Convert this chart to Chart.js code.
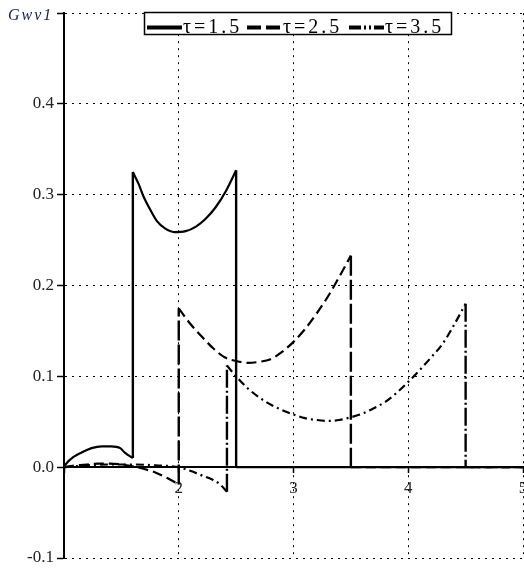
<!DOCTYPE html>
<html><head><meta charset="utf-8">
<script src="https://cdn.jsdelivr.net/npm/chart.js@4/dist/chart.umd.min.js"></script>
<style>html,body{margin:0;padding:0;background:#fff}#wrap{width:524px;height:574px;position:relative}</style>
</head><body><div id="wrap"><canvas id="c" width="524" height="574"></canvas></div>
<script>
// ---- data ----
const seriesLabels = ['τ=1.5', 'τ=2.5', 'τ=3.5'];
const yAxisTitle = 'Gwv1';
const xTickValues = [1, 2, 3, 4, 5];
const yTickValues = [-0.1, 0, 0.1, 0.2, 0.3, 0.4, 0.5];

const tau15X = [1.0, 1.02, 1.08, 1.15, 1.24, 1.33, 1.41, 1.49, 1.53, 1.6,
  1.6, 1.65, 1.69, 1.75, 1.81, 1.88, 1.96, 2.06, 2.15, 2.23, 2.32, 2.41, 2.5,
  2.5, 5.0];
const tau15Y = [0.0, 0.004, 0.011, 0.016, 0.021, 0.023, 0.023, 0.021, 0.016, 0.010,
  0.325, 0.312, 0.299, 0.284, 0.271, 0.263, 0.259, 0.260, 0.265, 0.273, 0.286, 0.304, 0.327,
  0.0, 0.0];

const tau25X = [1.0, 1.1, 1.2, 1.3, 1.4, 1.5, 1.6, 1.7, 1.8, 1.9, 2.0,
  2.0, 2.1, 2.2, 2.3, 2.4, 2.5, 2.6, 2.7, 2.8, 2.9, 3.0, 3.1, 3.2, 3.3, 3.4, 3.5,
  3.5, 5.0];
const tau25Y = [0.0, 0.002, 0.003, 0.004, 0.004, 0.003, 0.001, -0.002, -0.006, -0.012, -0.019,
  0.175, 0.158, 0.144, 0.131, 0.121, 0.117, 0.115, 0.116, 0.119, 0.127, 0.138, 0.152, 0.169, 0.188, 0.210, 0.233,
  0.0, 0.0];

const tau35X = [1.0, 1.2, 1.4, 1.6, 1.8, 2.0, 2.1, 2.2, 2.3, 2.36, 2.42,
  2.42, 2.5, 2.6, 2.7, 2.8, 2.9, 3.0, 3.1, 3.2, 3.3, 3.4, 3.5, 3.6, 3.7, 3.8, 3.9, 4.0, 4.1, 4.2, 4.3, 4.4, 4.5,
  4.5, 5.0];
const tau35Y = [0.0, 0.002, 0.003, 0.003, 0.002, 0.0, -0.004, -0.009, -0.014, -0.019, -0.027,
  0.112, 0.100, 0.087, 0.077, 0.069, 0.063, 0.058, 0.054, 0.052, 0.051, 0.052, 0.055, 0.059, 0.065, 0.072, 0.082, 0.094, 0.107, 0.121, 0.136, 0.157, 0.180,
  0.0, 0.0];

// ---- build ----
const SERIF = '"Liberation Serif", "Times New Roman", Times, serif';
const curveDash = [[], [10, 5], [8, 4, 2, 4]];
const jumpDash = [[], [20, 4], [18, 3, 2, 3]];
const legendDashes = [[], [14, 5], [12, 3, 2, 3, 2, 3]];

// split a series into its smooth pieces and its vertical jumps (same x repeated)
function split(xs, ys) {
  const curve = [], jumps = [];
  for (let i = 0; i < xs.length; i++) {
    if (i > 0 && xs[i] === xs[i - 1]) {
      curve.push({x: xs[i], y: null});
      jumps.push({x: xs[i], y: ys[i - 1]}, {x: xs[i], y: ys[i]}, {x: xs[i], y: null});
    }
    curve.push({x: xs[i], y: ys[i]});
  }
  return {curve, jumps};
}

const series = [[tau15X, tau15Y], [tau25X, tau25Y], [tau35X, tau35Y]];
const datasets = [];
series.forEach(([xs, ys], i) => {
  const parts = split(xs, ys);
  datasets.push({
    label: seriesLabels[i], data: parts.curve, legendIndex: i,
    borderColor: '#000', backgroundColor: '#000', borderWidth: 2.2,
    borderDash: curveDash[i], pointRadius: 0, fill: false,
    cubicInterpolationMode: 'monotone', spanGaps: false
  });
  datasets.push({
    label: seriesLabels[i] + ' jump', data: parts.jumps, legendIndex: -1,
    borderColor: '#000', backgroundColor: '#000', borderWidth: 2.4,
    borderDash: jumpDash[i], pointRadius: 0, fill: false, tension: 0, spanGaps: false
  });
});

const boxLegend = {
  id: 'boxLegend',
  afterDraw(chart) {
    const ctx = chart.ctx;
    ctx.save();
    ctx.fillStyle = '#fff';
    ctx.fillRect(144, 12, 308, 23);
    ctx.strokeStyle = '#000';
    ctx.lineWidth = 1.5;
    ctx.strokeRect(144.5, 12.5, 307, 22);
    const starts = [147, 247, 349];
    ctx.font = '20px ' + SERIF;
    ctx.textBaseline = 'alphabetic';
    chart.data.datasets.forEach((ds) => {
      const i = ds.legendIndex;
      if (i < 0) return;
      const x0 = starts[i];
      ctx.beginPath();
      ctx.setLineDash(legendDashes[i]);
      ctx.lineWidth = 4;
      ctx.strokeStyle = '#000';
      ctx.moveTo(x0, 27.5);
      ctx.lineTo(x0 + 35, 27.5);
      ctx.stroke();
      ctx.setLineDash([]);
      ctx.fillStyle = '#000';
      ctx.letterSpacing = '3px';
      ctx.fillText(ds.label, x0 + 36, 33);
      ctx.letterSpacing = '0px';
    });
    // y-axis title
    ctx.font = 'italic 16px ' + SERIF;
    ctx.fillStyle = '#14205a';
    ctx.letterSpacing = '2px';
    ctx.fillText(yAxisTitle, 8, 19.5);
    ctx.letterSpacing = '0px';
    ctx.restore();
  }
};

new Chart(document.getElementById('c'), {
  type: 'line',
  data: {datasets: datasets},
  plugins: [boxLegend],
  options: {
    responsive: false,
    animation: false,
    devicePixelRatio: 1,
    layout: {padding: {top: 12, bottom: 16, left: 0, right: 1}},
    plugins: {legend: {display: false}, tooltip: {enabled: false}},
    scales: {
      x: {
        type: 'linear', position: {y: 0},
        min: xTickValues[0], max: xTickValues[xTickValues.length - 1],
        afterBuildTicks: (s) => { s.ticks = xTickValues.map(v => ({value: v})); },
        afterFit: (s) => { s.height = 0; s.paddingLeft = 0; s.paddingRight = 0; },
        ticks: {
          callback: (v) => (v === 1 ? '' : String(v)),
          font: {family: SERIF, size: 17}, color: '#222',
          padding: 6, maxRotation: 0, autoSkip: false
        },
        grid: {color: '#000', lineWidth: 1, tickLength: 5, tickWidth: 1.5, tickColor: '#000', tickBorderDash: []},
        border: {display: true, color: '#000', width: 2, dash: [2, 5]}
      },
      y: {
        type: 'linear', position: 'left',
        min: yTickValues[0], max: yTickValues[yTickValues.length - 1],
        afterBuildTicks: (s) => { s.ticks = yTickValues.map(v => ({value: v})); },
        afterFit: (s) => { s.width = 64; },
        ticks: {
          callback: (v) => (v > 0.45 ? '' : Number(v).toFixed(1)),
          font: {family: SERIF, size: 17}, color: '#222',
          padding: 3, autoSkip: false
        },
        grid: {color: '#000', lineWidth: 1, tickLength: 7, tickWidth: 1.5, tickColor: '#000', tickBorderDash: []},
        border: {display: true, color: '#000', width: 2, dash: [2, 5]}
      }
    }
  }
});
</script>
</body></html>
